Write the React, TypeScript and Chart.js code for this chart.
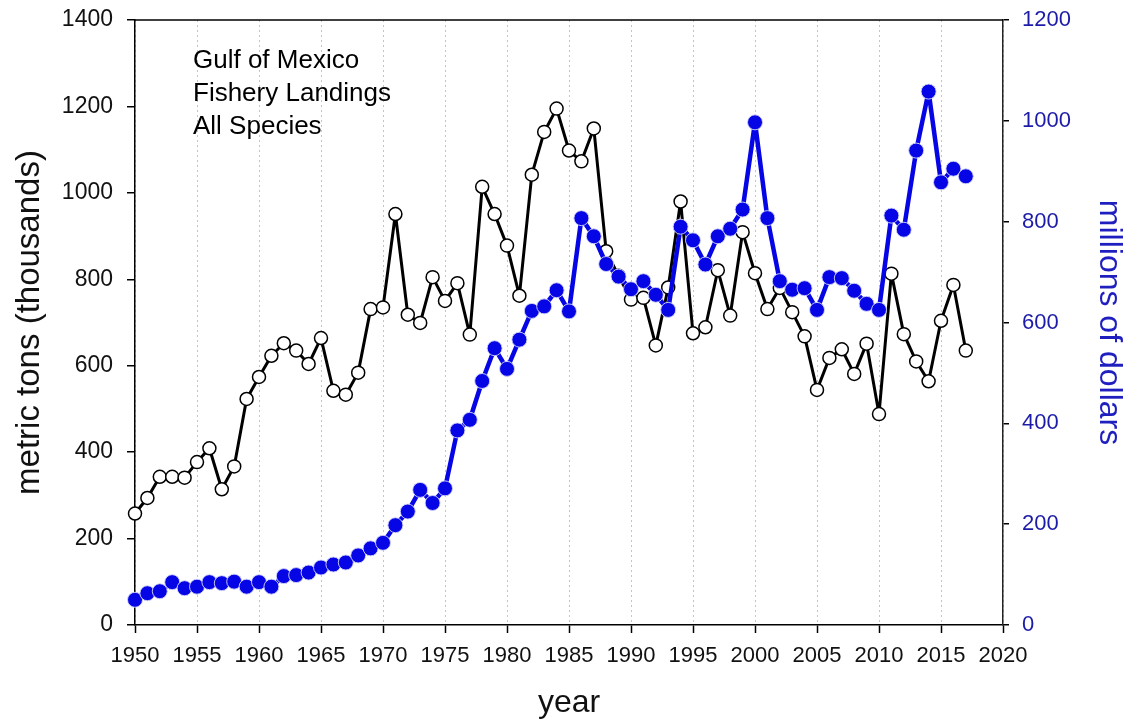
import React, { useEffect, useRef } from "react";
import { Chart, registerables } from "chart.js";

Chart.register(...registerables);

const years = [
  1950, 1951, 1952, 1953, 1954, 1955, 1956, 1957, 1958, 1959,
  1960, 1961, 1962, 1963, 1964, 1965, 1966, 1967, 1968, 1969,
  1970, 1971, 1972, 1973, 1974, 1975, 1976, 1977, 1978, 1979,
  1980, 1981, 1982, 1983, 1984, 1985, 1986, 1987, 1988, 1989,
  1990, 1991, 1992, 1993, 1994, 1995, 1996, 1997, 1998, 1999,
  2000, 2001, 2002, 2003, 2004, 2005, 2006, 2007, 2008, 2009,
  2010, 2011, 2012, 2013, 2014, 2015, 2016, 2017,
];

// metric tons (thousands)
const landingsTons = [
  258, 294, 343, 343, 341, 377, 409, 314, 367, 523,
  574, 623, 652, 635, 604, 664, 542, 533, 584, 731,
  735, 951, 718, 699, 805, 750, 791, 672, 1014, 951,
  878, 762, 1042, 1141, 1195, 1098, 1073, 1149, 865, 808,
  753, 757, 647, 781, 980, 675, 689, 821, 716, 909,
  814, 731, 780, 724, 668, 544, 618, 638, 581, 651,
  488, 813, 673, 610, 564, 704, 787, 635,
];

// millions of dollars
const landingsValue = [
  50, 63, 67, 85, 73, 76, 85, 83, 86, 76,
  85, 76, 97, 99, 104, 114, 120, 124, 138, 152,
  163, 198, 225, 268, 242, 271, 386, 407, 484, 549,
  508, 566, 623, 632, 664, 622, 807, 771, 716, 691,
  666, 682, 655, 625, 790, 763, 715, 771, 786, 824,
  997, 807, 682, 665, 668, 625, 690, 688, 663, 637,
  625, 812, 784, 941, 1058, 878, 905, 890,
];

const annotationLines = ["Gulf of Mexico", "Fishery Landings", "All Species"];

const FONT = "'Liberation Sans', Arial, sans-serif";
const BLUE = "#0505e6";
const BLUE_TEXT = "#1c1ca8";

const framePlugin = {
  id: "frameAndNote",
  afterDraw(chart: any) {
    const { ctx, chartArea } = chart;
    ctx.save();
    ctx.strokeStyle = "#000";
    ctx.lineWidth = 1.5;
    ctx.beginPath();
    ctx.moveTo(chartArea.left, chartArea.top);
    ctx.lineTo(chartArea.right, chartArea.top);
    ctx.stroke();
    ctx.fillStyle = "#000";
    ctx.font = `26px ${FONT}`;
    ctx.textAlign = "left";
    ctx.textBaseline = "alphabetic";
    annotationLines.forEach((t, i) => {
      ctx.fillText(t, chartArea.left + 58, chartArea.top + 48 + i * 33);
    });
    ctx.restore();
  },
};

const zeroPad = (s: any) => {
  s.paddingTop = 0;
  s.paddingBottom = 0;
  s.paddingLeft = 0;
  s.paddingRight = 0;
};

export default function App() {
  const ref = useRef<HTMLCanvasElement | null>(null);

  useEffect(() => {
    if (!ref.current) return;
    const tonsData = years.map((y, i) => ({ x: y, y: landingsTons[i] }));
    const valueData = years.map((y, i) => ({ x: y, y: landingsValue[i] }));
    const chart = new Chart(ref.current, {
      type: "line",
      data: {
        datasets: [
          {
            label: "millions of dollars",
            data: valueData,
            yAxisID: "y2",
            borderColor: BLUE,
            borderWidth: 4.5,
            borderJoinStyle: "round",
            backgroundColor: BLUE,
            pointRadius: 7.5,
            pointBackgroundColor: BLUE,
            pointBorderColor: "rgba(215,215,250,0.9)",
            pointBorderWidth: 1,
            tension: 0,
            clip: false,
          },
          {
            label: "metric tons (thousands)",
            data: tonsData,
            yAxisID: "y",
            borderColor: "#000",
            borderWidth: 3,
            borderJoinStyle: "round",
            pointRadius: 6.5,
            pointBackgroundColor: "#fff",
            pointBorderColor: "#000",
            pointBorderWidth: 1.5,
            tension: 0,
            clip: false,
          },
        ],
      },
      options: {
        animation: false,
        responsive: false,
        maintainAspectRatio: false,
        layout: { padding: { top: 20, left: 0, right: 0, bottom: 0 } },
        plugins: {
          legend: { display: false },
          tooltip: { enabled: false },
        },
        scales: {
          x: {
            type: "linear",
            min: 1950,
            max: 2020,
            afterFit: (s: any) => {
              s.height = 98;
              zeroPad(s);
            },
            ticks: {
              stepSize: 5,
              color: "#111",
              font: { family: FONT, size: 22 },
              padding: 10,
              maxRotation: 0,
              callback: (v: any) => String(v),
            },
            grid: {
              drawOnChartArea: true,
              color: "#c4c4c4",
              lineWidth: 1,
              tickColor: "#000",
              tickLength: 8,
              tickWidth: 1.5,
              tickBorderDash: [],
            },
            border: { display: true, color: "#000", width: 1.5, dash: [2, 3] },
            title: {
              display: true,
              text: "year",
              color: "#111",
              font: { family: FONT, size: 32 },
              padding: { top: 0, bottom: 1 },
            },
          },
          y: {
            position: "left",
            min: 0,
            max: 1400,
            afterFit: (s: any) => {
              s.width = 135;
              zeroPad(s);
            },
            ticks: {
              stepSize: 200,
              color: "#111",
              font: { family: FONT, size: 23 },
              padding: 14,
              callback: (v: any) => String(v),
            },
            grid: {
              drawOnChartArea: false,
              color: "#000",
              tickLength: 8,
              lineWidth: 1.5,
            },
            border: { display: true, color: "#000", width: 1.5 },
            title: {
              display: true,
              text: "metric tons (thousands)",
              color: "#111",
              font: { family: FONT, size: 33 },
              padding: { top: 10, bottom: 0 },
            },
          },
          y2: {
            position: "right",
            min: 0,
            max: 1200,
            afterFit: (s: any) => {
              s.width = 125;
              zeroPad(s);
            },
            ticks: {
              stepSize: 200,
              color: BLUE_TEXT,
              font: { family: FONT, size: 22 },
              padding: 13,
              callback: (v: any) => String(v),
            },
            grid: {
              drawOnChartArea: false,
              color: "#000",
              tickLength: 6,
              lineWidth: 1.5,
            },
            border: { display: true, color: "#222", width: 1.5 },
            title: {
              display: true,
              text: "millions of dollars",
              color: "#1f1fc0",
              font: { family: FONT, size: 32 },
              padding: { top: 0, bottom: 0 },
            },
          },
        },
      },
      plugins: [framePlugin],
    });
    return () => chart.destroy();
  }, []);

  return (
    <div
      style={{
        position: "fixed",
        left: 0,
        top: 0,
        width: 1128,
        height: 723,
        background: "#fff",
      }}
    >
      <canvas ref={ref} width={1128} height={723} style={{ width: 1128, height: 723 }} />
    </div>
  );
}
